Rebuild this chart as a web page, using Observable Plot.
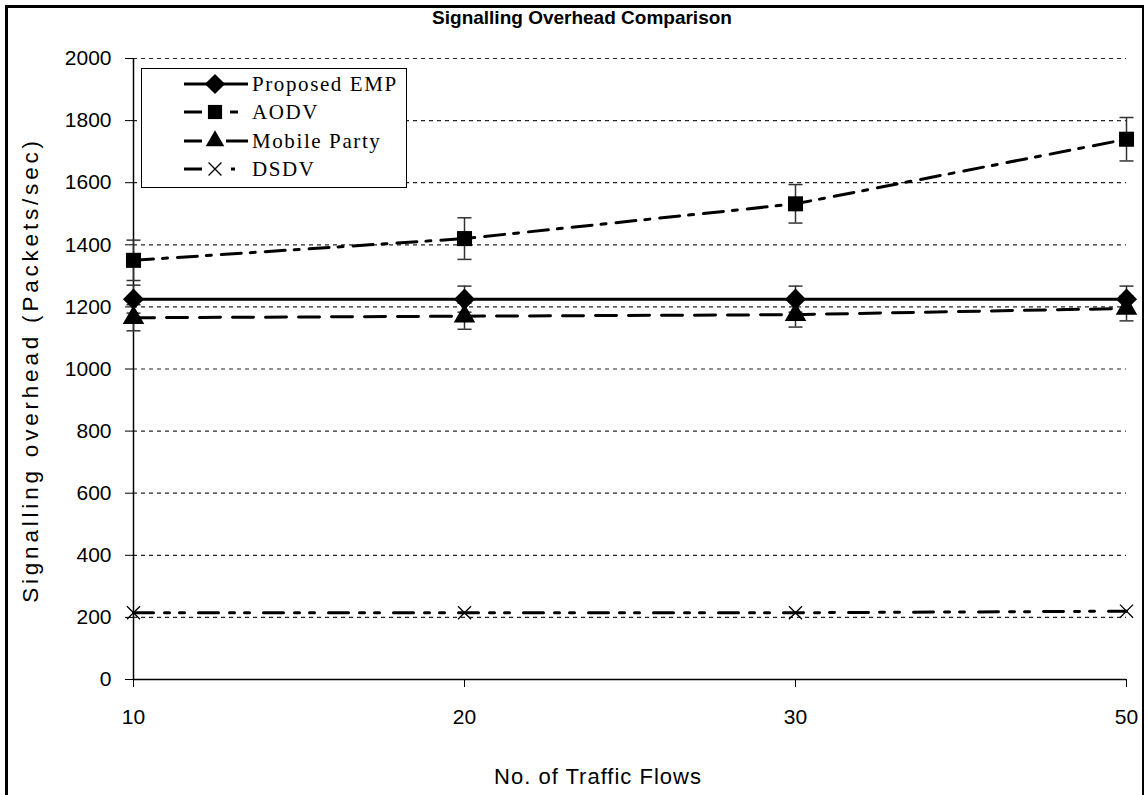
<!DOCTYPE html>
<html><head><meta charset="utf-8">
<script src="https://cdn.jsdelivr.net/npm/d3@7"></script>
<script src="https://cdn.jsdelivr.net/npm/@observablehq/plot@0.6"></script>
<style>
html,body{margin:0;padding:0;background:#fff;}
#wrap{position:relative;width:1148px;height:795px;overflow:hidden;font-family:"Liberation Sans",Arial,sans-serif;color:#000;}
#frame{position:absolute;left:5px;top:5px;width:1139px;height:800px;border-left:3px solid #000;border-top:3px solid #000;border-right:2px solid #000;box-sizing:border-box;pointer-events:none;}
#title{position:absolute;left:0;width:1164px;top:7px;text-align:center;font-size:19px;font-weight:bold;letter-spacing:0px;}
#xlabel{position:absolute;left:0;width:1196px;top:764px;text-align:center;font-size:22px;letter-spacing:1px;}
#ylabel{position:absolute;left:31px;top:370px;transform:translate(-50%,-50%) rotate(-90deg);white-space:nowrap;font-size:22.5px;letter-spacing:3.8px;}
#legend{position:absolute;left:141px;top:68px;width:266px;height:120px;border:1.5px solid #000;box-sizing:border-box;background:#fff;}
#legend .row{position:absolute;left:0;height:28px;width:264px;}
#legend .row span{position:absolute;left:110px;top:1px;font-family:"Liberation Serif","Times New Roman",serif;font-size:21px;letter-spacing:1.6px;line-height:26px;}
#legend svg{position:absolute;left:40px;top:0;}
#plot{position:absolute;left:0;top:0;}
</style></head>
<body><div id="wrap"><div id="plot"></div><div id="title">Signalling Overhead Comparison</div>
<div id="ylabel">Signalling overhead (Packets/sec)</div>
<div id="xlabel">No. of Traffic Flows</div>
<div id="legend"></div>
<div id="frame"></div></div>
<script>
const categories = ["10", "20", "30", "50"];
const seriesNames = ["Proposed EMP", "AODV", "Mobile Party", "DSDV"];
const empValues = [1225, 1225, 1225, 1225];
const aodvValues = [1350, 1420, 1532, 1740];
const mobileValues = [1165, 1170, 1175, 1195];
const dsdvValues = [215, 215, 215, 220];
const empErr = [45, 42, 42, 42];
const aodvErr = [65, 67, 62, 70];
const mobileErr = [42, 42, 40, 40];
const dsdvErr = [0, 0, 0, 0];
const yTicks = [0, 200, 400, 600, 800, 1000, 1200, 1400, 1600, 1800, 2000];

const styles = {
  "Proposed EMP": {dash: null, symbol: "diamond2", r: 9.5},
  "AODV": {dash: "20,9,5,10", symbol: "square", r: 8.5},
  "Mobile Party": {dash: "21,12", symbol: "triangle", r: 8},
  "DSDV": {dash: "20,11,5,10,5,14", symbol: "times", r: 6}
};
const valuesBySeries = [empValues, aodvValues, mobileValues, dsdvValues];
const errBySeries = [empErr, aodvErr, mobileErr, dsdvErr];
const data = [];
seriesNames.forEach((s, i) => categories.forEach((c, j) => data.push({
  series: s, x: c, y: valuesBySeries[i][j], lo: valuesBySeries[i][j] - errBySeries[i][j], hi: valuesBySeries[i][j] + errBySeries[i][j], err: errBySeries[i][j]
})));
const errData = data.filter(d => d.err > 0);
const capSymbol = {draw(ctx) { ctx.moveTo(-7, 0); ctx.lineTo(7, 0); }};

const marks = [
  Plot.gridY(yTicks.filter(t => t > 0), {stroke: "#000", strokeOpacity: 0.85, strokeDasharray: "4,4", strokeWidth: 1.2}),
  Plot.ruleX(["10"], {y1: 0, y2: 2000, stroke: "#000", strokeWidth: 1.5}),
  Plot.ruleY([0], {stroke: "#000", strokeWidth: 1.5}),
  Plot.axisY({ticks: yTicks, tickSize: 8, tickPadding: 14, label: null, tickFormat: d => String(d)}),
  Plot.axisX({tickSize: 8, tickPadding: 22, label: null}),
  Plot.ruleX(errData, {x: "x", y1: "lo", y2: "hi", stroke: "#333", strokeWidth: 1.5}),
  Plot.dot(errData, {x: "x", y: "lo", symbol: capSymbol, fill: "none", stroke: "#333", strokeWidth: 1.5, r: 4}),
  Plot.dot(errData, {x: "x", y: "hi", symbol: capSymbol, fill: "none", stroke: "#333", strokeWidth: 1.5, r: 4})
];
seriesNames.forEach(s => {
  const st = styles[s];
  const sub = data.filter(d => d.series === s);
  marks.push(Plot.line(sub, {x: "x", y: "y", stroke: "#000", strokeWidth: 3, strokeDasharray: st.dash || undefined}));
  if (st.symbol === "times") {
    marks.push(Plot.dot(sub, {x: "x", y: "y", symbol: "times", r: st.r, stroke: "#000", strokeWidth: 1.3, fill: "none"}));
  } else {
    marks.push(Plot.dot(sub, {x: "x", y: "y", symbol: st.symbol, r: st.r, fill: "#000", stroke: "none"}));
  }
});

const chart = Plot.plot({
  width: 1148, height: 795,
  marginLeft: 133, marginRight: 22, marginTop: 58, marginBottom: 116,
  style: {fontFamily: "'Liberation Sans', Arial, sans-serif", fontSize: "21px", color: "#000", background: "transparent"},
  x: {type: "point", domain: categories, padding: 0},
  y: {domain: [0, 2000]},
  marks
});
document.getElementById("plot").appendChild(chart);

// legend
const legend = document.getElementById("legend");
const ns = "http://www.w3.org/2000/svg";
const symPaths = {
  diamond2: d3.symbol(d3.symbolDiamond2, 260)(),
  square: d3.symbol(d3.symbolSquare, 200)(),
  triangle: d3.symbol(d3.symbolTriangle, 150)(),
  times: d3.symbol(d3.symbolTimes, 110)()
};
const legendSegs = {
  "Proposed EMP": [[0, 64]],
  "AODV": [[0, 18], [46, 54]],
  "Mobile Party": [[0, 18], [42, 64]],
  "DSDV": [[0, 18], [47, 51]]
};
seriesNames.forEach((s, i) => {
  const row = document.createElement("div");
  row.className = "row";
  row.style.top = (1 + i * 28.3) + "px";
  const svg = document.createElementNS(ns, "svg");
  svg.setAttribute("width", 70); svg.setAttribute("height", 28);
  legendSegs[s].forEach(([a, b]) => {
    const l = document.createElementNS(ns, "line");
    l.setAttribute("x1", a + 2); l.setAttribute("x2", b + 2); l.setAttribute("y1", 14); l.setAttribute("y2", 14);
    l.setAttribute("stroke", "#000"); l.setAttribute("stroke-width", 3);
    svg.appendChild(l);
  });
  const p = document.createElementNS(ns, "path");
  const sym = styles[s].symbol;
  p.setAttribute("d", symPaths[sym]);
  p.setAttribute("transform", "translate(33,14)");
  if (sym === "times") { p.setAttribute("fill", "none"); p.setAttribute("stroke", "#000"); p.setAttribute("stroke-width", 1.3); }
  else p.setAttribute("fill", "#000");
  svg.appendChild(p);
  row.appendChild(svg);
  const t = document.createElement("span");
  t.textContent = s;
  row.appendChild(t);
  legend.appendChild(row);
});
</script>
</body></html>
